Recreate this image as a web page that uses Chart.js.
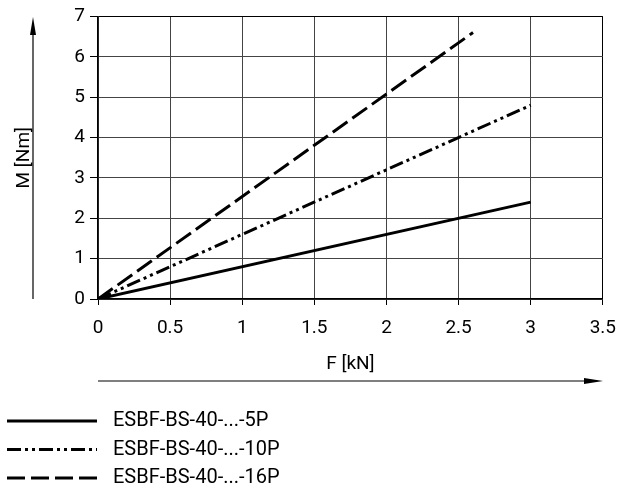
<!DOCTYPE html>
<html>
<head>
<meta charset="utf-8">
<script src="https://cdn.jsdelivr.net/npm/chart.js@4/dist/chart.umd.min.js"></script>
<style>
  html, body { margin: 0; padding: 0; background: #fff; }
  #wrap { width: 628px; height: 490px; }
</style>
</head>
<body>
<div id="wrap"><canvas id="chart" width="628" height="490"></canvas></div>
<script>
// values
const seriesNames = ['ESBF-BS-40-...-5P', 'ESBF-BS-40-...-10P', 'ESBF-BS-40-...-16P'];
const force5P = [0, 3];
const torque5P = [0, 2.4];
const force10P = [0, 3];
const torque10P = [0, 4.8];
const force16P = [0, 2.6];
const torque16P = [0, 6.6];
const xTicks = [0, 0.5, 1, 1.5, 2, 2.5, 3, 3.5];
const yTicks = [0, 1, 2, 3, 4, 5, 6, 7];

const dashes = [[], [14, 4, 3, 4, 3, 4], [18, 6]];
const FONT = 'Roboto';

function pts(xs, ys) {
    return xs.map((x, i) => ({ x: x, y: ys[i] }));
}

// arrows + legend drawn below the plot
const extras = {
    id: 'extras',
    afterDraw(chart) {
        const ctx = chart.ctx;
        const area = chart.chartArea;
        ctx.save();
        ctx.strokeStyle = '#000';
        ctx.fillStyle = '#000';
        ctx.lineWidth = 1.2;

        // y arrow
        ctx.beginPath();
        ctx.moveTo(33, area.bottom);
        ctx.lineTo(33, 30);
        ctx.stroke();
        ctx.beginPath();
        ctx.moveTo(33, 17);
        ctx.lineTo(30, 35);
        ctx.lineTo(36, 35);
        ctx.closePath();
        ctx.fill();

        // x arrow
        ctx.beginPath();
        ctx.moveTo(area.left, 381);
        ctx.lineTo(588, 381);
        ctx.stroke();
        ctx.beginPath();
        ctx.moveTo(603, 381);
        ctx.lineTo(584, 378);
        ctx.lineTo(584, 384);
        ctx.closePath();
        ctx.fill();

        // legend
        ctx.font = '20px ' + FONT;
        ctx.textBaseline = 'middle';
        ctx.lineWidth = 3;
        seriesNames.forEach((name, i) => {
            const y = 421 + i * 28.5;
            ctx.setLineDash(dashes[i]);
            ctx.beginPath();
            ctx.moveTo(7, y);
            ctx.lineTo(97, y);
            ctx.stroke();
            ctx.setLineDash([]);
            ctx.fillText(name, 113, y);
        });
        ctx.restore();
    }
};

const ctx = document.getElementById('chart').getContext('2d');
new Chart(ctx, {
    type: 'line',
    data: {
        datasets: [
            { label: seriesNames[0], data: pts(force5P, torque5P), borderDash: dashes[0] },
            { label: seriesNames[1], data: pts(force10P, torque10P), borderDash: dashes[1] },
            { label: seriesNames[2], data: pts(force16P, torque16P), borderDash: dashes[2] }
        ].map(d => Object.assign(d, {
            borderColor: '#000',
            borderWidth: 3,
            pointRadius: 0,
            fill: false,
            tension: 0
        }))
    },
    options: {
        responsive: false,
        animation: false,
        layout: { padding: { left: 0, top: 15, right: 25, bottom: 0 } },
        plugins: { legend: { display: false }, tooltip: { enabled: false } },
        scales: {
            x: {
                type: 'linear',
                min: 0,
                max: 3.5,
                afterBuildTicks: s => { s.ticks = xTicks.map(v => ({ value: v })); },
                afterFit: s => { s.height = 191; },
                ticks: {
                    color: '#000',
                    font: { family: FONT, size: 19 },
                    padding: 12,
                    maxRotation: 0,
                    callback: v => String(v)
                },
                grid: {
                    color: c => (c.tick && c.tick.value === 3.5 ? '#000' : '#444'),
                    lineWidth: 1,
                    tickLength: 6,
                    tickColor: '#000'
                },
                border: { color: '#000', width: 1.5 },
                title: {
                    display: true,
                    text: 'F [kN]',
                    color: '#000',
                    font: { family: FONT, size: 19 },
                    padding: { top: 0, bottom: 114 }
                }
            },
            y: {
                min: 0,
                max: 7,
                afterBuildTicks: s => { s.ticks = yTicks.map(v => ({ value: v })); },
                afterFit: s => { s.width = 98; },
                ticks: {
                    color: '#000',
                    font: { family: FONT, size: 19 },
                    padding: 5,
                    callback: v => String(v)
                },
                grid: {
                    color: c => (c.tick && c.tick.value === 7 ? '#000' : '#444'),
                    lineWidth: 1,
                    tickLength: 8,
                    tickColor: '#000'
                },
                border: { color: '#000', width: 1.5 },
                title: {
                    display: true,
                    text: 'M [Nm]',
                    color: '#000',
                    font: { family: FONT, size: 19 },
                    padding: { top: 13, bottom: 0 }
                }
            }
        }
    },
    plugins: [extras]
});
</script>
</body>
</html>
